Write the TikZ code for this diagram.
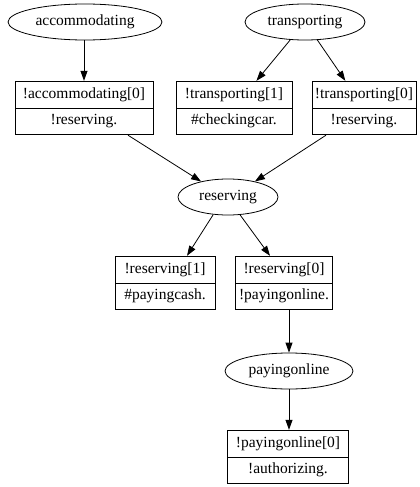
\documentclass[tikz,border=0pt]{standalone}
\usepackage{fontspec}
\setmainfont{Liberation Serif}
\usetikzlibrary{arrows.meta,shapes.geometric,shapes.multipart}
\newcommand{\recstrut}{\rule[-4pt]{0pt}{15pt}}

\begin{document}
\begin{tikzpicture}[x=1pt,y=-1pt,
  state/.style={draw,ellipse,line width=0.8pt,minimum height=36pt,inner sep=0pt,font=\fontsize{15.5}{18}\selectfont},
  record/.style={draw,rectangle split,rectangle split parts=2,line width=0.8pt,inner xsep=2pt,inner ysep=5.5pt,font=\fontsize{15.5}{18}\selectfont},
  edge/.style={-{Triangle[length=10pt,width=7pt]},line width=0.8pt}]
\useasboundingbox (0,0) rectangle (420,487);

\node[state,minimum width=154pt] (acc) at (85,22) {accommodating};
\node[state,minimum width=120pt] (tra) at (305,22) {transporting};
\node[state,minimum width=100pt] (res) at (228,197) {reserving};
\node[state,minimum width=128pt] (pay) at (289,371) {payingonline};

\node[record,minimum width=138pt] (acc0) at (84,108) {\recstrut!accommodating[0]\nodepart{two}\recstrut!reserving.};
\node[record,minimum width=116pt] (tra1) at (234,108) {\recstrut!transporting[1]\nodepart{two}\recstrut\#checkingcar.};
\node[record,minimum width=104pt] (tra0) at (364,108) {\recstrut!transporting[0]\nodepart{two}\recstrut!reserving.};
\node[record,minimum width=100pt] (res1) at (165,283) {\recstrut!reserving[1]\nodepart{two}\recstrut\#payingcash.};
\node[record,minimum width=97pt] (res0) at (284,283) {\recstrut!reserving[0]\nodepart{two}\recstrut!payingonline.};
\node[record,minimum width=121pt] (pay0) at (288,457) {\recstrut!payingonline[0]\nodepart{two}\recstrut!authorizing.};

\draw[edge] (acc.south -| acc0.north) -- (acc0.north);
\draw[edge] (tra) -- (tra1);
\draw[edge] (tra) -- (tra0);

\draw[edge] ([xshift=44pt]acc0.south) -- (res.150);
\draw[edge] ([xshift=-38pt]tra0.south) -- (res.30);

\draw[edge] (res.230) -- ([xshift=22pt]res1.north);
\draw[edge] (res.304) -- ([xshift=-14pt]res0.north);

\draw[edge] (res0.south -| pay.north) -- (pay.north);
\draw[edge] (pay.south) -- (pay.south |- pay0.north);

\end{tikzpicture}
\end{document}
